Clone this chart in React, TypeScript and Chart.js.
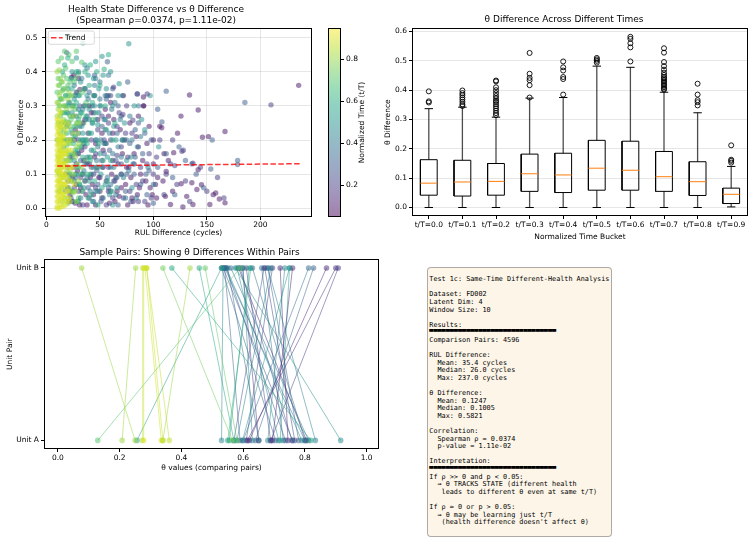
import React, { useEffect, useRef } from 'react';
import { Chart, registerables } from 'chart.js';

Chart.register(...registerables);

const FONT = '"DejaVu Sans", "Liberation Sans", sans-serif';
const MONO = '"DejaVu Sans Mono", "Liberation Mono", monospace';

// ---------------- Panel 1: RUL difference vs theta difference ----------------
const scatterTitle = ['Health State Difference vs θ Difference', '(Spearman ρ=0.0374, p=1.11e-02)'];
const timeLevels = [0.1, 0.2, 0.3, 0.4, 0.5, 0.6, 0.7, 0.8, 0.9];
const cbMin = 0.05;
const cbMax = 0.95;
const cbTicks = [0.2, 0.4, 0.6, 0.8];
const cbLabel = 'Normalized Time (t/T)';
const rulTicks = [0, 50, 100, 150, 200];
const thetaTicks = [0, 0.1, 0.2, 0.3, 0.4, 0.5];

// [RUL difference, theta difference]
const ptsT01 = [[22,0.04],[25,0.12],[28,0.07],[31,0.01],[34,0.1],[37,0.04],[40,0.13],[43,0.07],[46,0.01],[49,0.09],[52,0.03],[55,0.19],[58,0.27],[61,0.1],[64,0.02],[67,0.13],[70,0.06],[73,0.2],[76,0.01],[79,0.09],[82,0.16],[85,0.04],[88,0.1],[91,0.3],[94,0.19],[97,0.06],[100,0.13],[103,0.03],[106,0.24],[109,0.08],[112,0.108],[116,0.011],[119,0.163],[122.6,0.22],[125.8,0.27],[127.6,0.004],[131.2,0.035],[133.8,0.332],[136,0.075],[137,0.011],[140.7,0.055],[141.9,0.288],[141.9,0.113],[145,0.069],[145.9,0.208],[151.5,0.21],[152.8,0.011],[156,0.04],[158.3,0.045],[161.7,0.027],[167,0.225],[167,0.016],[235.9,0.36],[107.8,0.236],[118,0.05],[111.2,0.035],[126,0.072],[23.5,0.384],[25.6,0.39],[29.9,0.38],[31.3,0.348],[56.6,0.33],[72,0.33],[90.7,0.3],[90.7,0.326],[60,0.31],[48,0.26],[39,0.22],[33,0.17],[27,0.23],[45,0.15],[62,0.22],[66,0.05],[75,0.12],[80,0.03],[95,0.01],[102,0.07],[114,0.14],[35,0.3],[42,0.28],[53,0.12],[20,0.06],[18,0.1],[30,0.16],[21,0.02],[24,0.09],[27,0.015],[29,0.11],[32,0.06],[35,0.14],[38,0.01],[41,0.09],[44,0.04],[47,0.12],[50,0.05],[53,0.17],[56,0.08],[59,0.015],[62,0.14],[65,0.09],[68,0.035],[71,0.16],[74,0.07],[77,0.12],[81,0.02],[84,0.21],[87,0.06],[90,0.14],[93,0.08],[96,0.24],[99,0.04],[104,0.09],[63,0.26],[69,0.23],[78,0.25],[86,0.27],[52,0.22],[46,0.19],[36,0.26],[58,0.05],[100,0.2],[110,0.16],[55,0.29],[45,0.33]];
const ptsT02 = [[20,0.08],[24,0.02],[28,0.13],[32,0.09],[36,0.18],[40,0.03],[44,0.1],[48,0.23],[52,0.14],[56,0.01],[60,0.2],[64,0.08],[68,0.28],[72,0.03],[76,0.15],[80,0.22],[84,0.07],[88,0.12],[92,0.02],[96,0.16],[100,0.1],[106,0.2],[110,0.04],[116,0.13],[122,0.07],[128,0.17],[134,0.02],[144,0.12],[150,0.05],[160,0.09],[166,0.03],[210,0.303],[94.2,0.335],[84.9,0.335],[71.5,0.275],[62.8,0.355],[126.7,0.167],[137,0.132],[80.8,0.258],[52,0.27],[40,0.3],[30,0.05],[58,0.12],[66,0.155],[26,0.2],[34,0.25],[46,0.06],[70,0.18],[86,0.02],[120,0.125],[22,0.15],[26,0.06],[30,0.2],[34,0.01],[38,0.13],[42,0.2],[46,0.16],[50,0.09],[54,0.2],[58,0.25],[62,0.03],[66,0.24],[70,0.1],[74,0.22],[78,0.05],[82,0.13],[86,0.18],[90,0.08],[94,0.13],[98,0.03],[103,0.15],[112,0.1],[118,0.2],[130,0.08],[44,0.28],[36,0.08],[28,0.34],[60,0.33],[75,0.3]];
const ptsT03 = [[18,0.05],[22,0.1],[26,0.16],[30,0.22],[34,0.05],[38,0.27],[42,0.12],[46,0.2],[50,0.3],[54,0.16],[58,0.06],[62,0.35],[66,0.22],[70,0.13],[74,0.05],[78,0.19],[82,0.1],[86,0.25],[90,0.16],[94,0.04],[98,0.2],[104,0.12],[108,0.253],[112,0.16],[118,0.09],[124,0.18],[130,0.14],[136,0.13],[140,0.1],[147,0.06],[155,0.2],[185.6,0.31],[76,0.37],[85,0.335],[104,0.29],[112,0.343],[60,0.05],[36,0.35],[28,0.27],[48,0.07],[57,0.429],[19,0.456],[153.7,0.115],[178.8,0.14],[178.8,0.128],[120,0.04],[100,0.015],[93,0.1],[67,0.01],[44,0.02],[24,0.3],[32,0.14],[52,0.24],[20,0.2],[23,0.03],[27,0.09],[31,0.3],[35,0.19],[39,0.06],[43,0.3],[47,0.11],[51,0.02],[55,0.23],[59,0.17],[63,0.08],[67,0.3],[71,0.2],[75,0.1],[79,0.02],[83,0.15],[88,0.07],[92,0.22],[96,0.11],[45,0.39],[40,0.34],[65,0.14],[56,0.32],[83,0.23],[70,0.27]];
const ptsT04 = [[19,0.24],[21,0.31],[23,0.2],[25,0.27],[27,0.33],[29,0.16],[31,0.24],[33,0.38],[35,0.11],[37,0.2],[39,0.32],[41,0.05],[43,0.25],[45,0.36],[47,0.14],[49,0.28],[51,0.2],[53,0.03],[55,0.33],[57,0.09],[59,0.22],[61,0.29],[63,0.12],[65,0.04],[67,0.18],[69,0.26],[72,0.09],[75,0.2],[78,0.27],[81,0.13],[84,0.03],[88,0.21],[95,0.12],[100,0.07],[46,0.38],[26,0.08],[34,0.29],[58,0.39],[71,0.33],[42,0.17],[86,0.3],[20,0.12],[24,0.15],[30,0.02],[38,0.09],[20,0.28],[22,0.05],[24,0.22],[26,0.36],[28,0.1],[30,0.29],[32,0.03],[34,0.2],[36,0.35],[38,0.15],[40,0.26],[42,0.1],[44,0.33],[46,0.05],[48,0.18],[50,0.32],[52,0.12],[54,0.26],[56,0.19],[60,0.07],[62,0.16],[64,0.31],[66,0.09],[70,0.15],[74,0.03],[77,0.11],[80,0.2],[50,0.37],[38,0.41],[30,0.4]];
const ptsT05 = [[16,0.18],[18,0.3],[21,0.25],[24,0.28],[27,0.21],[30,0.33],[33,0.18],[35,0.06],[37,0.26],[39,0.39],[41,0.15],[43,0.02],[45,0.3],[47,0.2],[49,0.35],[51,0.1],[53,0.39],[55,0.26],[57,0.15],[59,0.04],[62,0.3],[65,0.2],[68,0.365],[70,0.1],[73,0.25],[77,0.482],[80,0.06],[85,0.18],[89,0.26],[52,0.445],[58,0.33],[44,0.38],[36,0.42],[28,0.44],[67,0.33],[75,0.14],[30,0.12],[23,0.05],[40,0.29],[62,0.01],[48,0.245],[55,0.07],[92,0.23],[105,0.18],[97,0.33],[20,0.35],[26,0.14],[33,0.24],[17,0.25],[19,0.14],[21,0.33],[22,0.09],[25,0.02],[26,0.32],[29,0.17],[31,0.07],[32,0.28],[34,0.22],[36,0.13],[38,0.33],[40,0.08],[42,0.22],[44,0.12],[46,0.26],[48,0.05],[50,0.16],[54,0.19],[56,0.35],[60,0.12],[63,0.24],[66,0.06],[71,0.2],[79,0.15],[82,0.3],[60,0.4],[46,0.43],[32,0.37],[24,0.4]];
const ptsT06 = [[13,0.32],[15,0.28],[18,0.33],[20,0.3],[22,0.27],[24,0.35],[26,0.24],[28,0.31],[30,0.26],[32,0.2],[34,0.15],[36,0.3],[38,0.1],[40,0.22],[42,0.04],[44,0.17],[46,0.28],[48,0.12],[50,0.36],[52,0.06],[54,0.407],[56,0.23],[58,0.45],[60,0.14],[20,0.503],[34,0.484],[36,0.4],[40,0.36],[45,0.33],[25,0.19],[27,0.1],[29,0.02],[31,0.07],[33,0.28],[19,0.22],[17,0.42],[43,0.31],[47,0.4],[55,0.3],[61,0.05],[64,0.25],[48,0.01],[22,0.14],[38,0.19],[14,0.25],[16,0.35],[17,0.2],[19,0.28],[21,0.16],[23,0.23],[25,0.3],[27,0.17],[29,0.25],[31,0.33],[33,0.1],[35,0.2],[37,0.27],[39,0.03],[41,0.14],[43,0.25],[45,0.08],[49,0.19],[51,0.3],[53,0.14],[57,0.08],[62,0.2],[28,0.4],[23,0.38],[41,0.42],[15,0.4],[20,0.44]];
const ptsT07 = [[10,0.34],[12,0.36],[14,0.37],[16,0.39],[18,0.41],[15,0.345],[20,0.36],[22,0.31],[11,0.38],[25,0.33],[27,0.29],[29,0.12],[31,0.18],[33,0.05],[35,0.25],[37,0.14],[39,0.3],[24,0.43],[28,0.46],[33,0.428],[21,0.45],[16,0.3],[18,0.255],[23,0.08],[26,0.21],[30,0.03],[34,0.34],[36,0.08],[19,0.185],[12,0.1],[14,0.06],[17,0.14],[38,0.2],[41,0.1],[20,0.015],[43,0.26],[30,0.395],[26,0.37],[13,0.22],[22,0.2],[11,0.25],[12,0.3],[13,0.27],[14,0.32],[15,0.2],[16,0.23],[17,0.28],[18,0.33],[19,0.38],[20,0.25],[21,0.1],[22,0.37],[23,0.26],[24,0.16],[25,0.05],[26,0.3],[27,0.38],[28,0.24],[29,0.34],[31,0.27],[32,0.1],[34,0.19],[35,0.35],[37,0.31],[40,0.15],[10,0.2],[11,0.43],[14,0.44],[17,0.46]];
const ptsT08 = [[10,0.27],[11,0.29],[13,0.3],[10,0.31],[12,0.33],[14,0.28],[11,0.36],[13,0.38],[10,0.4],[12,0.405],[15,0.32],[16,0.26],[17,0.22],[18,0.17],[19,0.11],[18,0.06],[20,0.03],[21,0.14],[22,0.24],[23,0.05],[24,0.2],[25,0.1],[26,0.27],[27,0.15],[28,0.02],[29,0.22],[30,0.08],[19,0.29],[21,0.34],[17,0.35],[15,0.02],[14,0.12],[16,0.09],[22,0.19],[20,0.155],[24,0.295],[28,0.18],[31,0.25],[25,0.045],[33,0.12],[12,0.19],[14,0.235],[11,0.15],[13,0.05],[10,0.11],[11,0.05],[12,0.24],[13,0.17],[14,0.2],[15,0.09],[16,0.13],[17,0.03],[18,0.2],[19,0.24],[20,0.19],[21,0.06],[22,0.11],[23,0.27],[24,0.08],[25,0.22],[26,0.16],[27,0.05],[28,0.25],[29,0.13],[30,0.19],[17,0.3],[15,0.37],[13,0.34],[20,0.32],[11,0.31],[23,0.33]];
const ptsT09 = [[10,0.005],[11,0.02],[10,0.035],[12,0.05],[10,0.065],[11,0.08],[10,0.095],[12,0.11],[10,0.125],[11,0.14],[10,0.155],[12,0.17],[10,0.185],[11,0.2],[10,0.215],[12,0.23],[10,0.245],[11,0.26],[13,0.012],[14,0.03],[13,0.045],[15,0.06],[13,0.075],[14,0.09],[13,0.105],[15,0.12],[13,0.135],[14,0.15],[13,0.165],[15,0.18],[13,0.195],[14,0.21],[12,0.22],[16,0.005],[17,0.02],[16,0.04],[17,0.07],[16,0.1],[18,0.13],[16,0.16],[17,0.19],[15,0.24],[12,0.275],[19,0.05],[20,0.09],[19,0.14],[21,0.2],[22,0.02],[24,0.12],[20,0.25],[18,0.23],[26,0.07],[23,0.17],[10,0.0],[12,0.0],[14,0.005],[11,0.105],[12,0.135],[10,0.235],[14,0.255],[16,0.21],[17,0.12],[18,0.095],[19,0.02],[15,0.165],[13,0.285],[10,0.02],[10,0.05],[10,0.08],[10,0.11],[10,0.14],[10,0.17],[10,0.2],[10,0.26],[11,0.035],[11,0.065],[11,0.125],[11,0.16],[11,0.185],[11,0.225],[12,0.08],[12,0.15],[12,0.2],[12,0.25],[13,0.025],[13,0.06],[13,0.09],[13,0.12],[13,0.15],[13,0.18],[13,0.21],[13,0.24],[14,0.045],[14,0.075],[14,0.105],[14,0.135],[14,0.165],[14,0.195],[15,0.03],[15,0.09],[15,0.15],[15,0.21],[16,0.07],[16,0.13],[16,0.19],[16,0.25],[17,0.04],[17,0.1],[17,0.16],[18,0.01],[18,0.07],[18,0.16],[19,0.08],[19,0.17],[20,0.05],[20,0.12],[21,0.03],[21,0.17],[22,0.08],[23,0.12]];
const scatterGroups = [ptsT01, ptsT02, ptsT03, ptsT04, ptsT05, ptsT06, ptsT07, ptsT08, ptsT09];
const trendRul = [10, 237];
const trendTheta = [0.1238, 0.1305];

// ---------------- Panel 2: box plot by time bucket ----------------
const boxTitle = 'θ Difference Across Different Times';
const bucketLabels = ['t/T=0.0', 't/T=0.1', 't/T=0.2', 't/T=0.3', 't/T=0.4', 't/T=0.5', 't/T=0.6', 't/T=0.7', 't/T=0.8', 't/T=0.9'];
const boxQ1 = [0.042, 0.039, 0.042, 0.055, 0.051, 0.059, 0.059, 0.055, 0.041, 0.0135];
const boxMedian = [0.083, 0.087, 0.089, 0.115, 0.111, 0.134, 0.127, 0.105, 0.088, 0.045];
const boxQ3 = [0.163, 0.161, 0.15, 0.182, 0.185, 0.229, 0.226, 0.191, 0.156, 0.066];
const whiskerLow = [0, 0, 0, 0, 0, 0, 0, 0, 0, 0.002];
const whiskerHigh = [0.337, 0.342, 0.308, 0.373, 0.375, 0.482, 0.478, 0.393, 0.323, 0.14];
const fliers = [
  [0.358, 0.362, 0.396],
  [0.346, 0.352, 0.36, 0.368, 0.375, 0.383, 0.39, 0.399],
  [0.315, 0.322, 0.33, 0.338, 0.345, 0.352, 0.36, 0.365, 0.372, 0.38, 0.39, 0.4, 0.41, 0.43, 0.433],
  [0.375, 0.417, 0.434, 0.442, 0.456, 0.527],
  [0.385, 0.438, 0.445, 0.467, 0.478, 0.498],
  [0.494, 0.5, 0.505, 0.51],
  [0.498, 0.546, 0.56, 0.575, 0.582],
  [0.402, 0.405, 0.41, 0.415, 0.42, 0.425, 0.43, 0.435, 0.44, 0.445, 0.452, 0.46, 0.47, 0.482, 0.496, 0.528, 0.543],
  [0.348, 0.359, 0.366, 0.385, 0.422],
  [0.153, 0.159, 0.163, 0.212],
];
const boxTicks = [0, 0.1, 0.2, 0.3, 0.4, 0.5, 0.6];

// ---------------- Panel 3: sample pairs ----------------
const pairTitle = 'Sample Pairs: Showing θ Differences Within Pairs';
const pairSideLabels = ['Unit A', 'Unit B'];
const pairThetaA = [0.25, 0.208, 0.278, 0.335, 0.34, 0.565, 0.82, 0.34, 0.129, 0.256, 0.57, 0.58, 0.361, 0.273, 0.53, 0.555, 0.705, 0.58, 0.59, 0.598, 0.614, 0.62, 0.63, 0.651, 0.76, 0.689, 0.695, 0.8, 0.715, 0.737, 0.758, 0.767, 0.79, 0.8, 0.812, 0.834, 0.916, 0.6, 0.64, 0.57, 0.61, 0.68, 0.72, 0.745, 0.78, 0.69, 0.805, 0.55, 0.65, 0.73];
const pairThetaB = [0.077, 0.252, 0.278, 0.282, 0.288, 0.34, 0.369, 0.428, 0.59, 0.53, 0.458, 0.477, 0.287, 0.275, 0.535, 0.62, 0.53, 0.69, 0.54, 0.75, 0.9, 0.87, 0.6, 0.55, 0.535, 0.61, 0.76, 0.54, 0.58, 0.545, 0.59, 0.67, 0.545, 0.63, 0.56, 0.68, 0.575, 0.812, 0.828, 0.668, 0.695, 0.735, 0.75, 0.72, 0.68, 0.908, 0.585, 0.625, 0.598, 0.66];
const pairTime = [0.85, 0.85, 0.95, 0.93, 0.92, 0.78, 0.6, 0.85, 0.72, 0.55, 0.6, 0.75, 0.9, 0.88, 0.45, 0.55, 0.3, 0.4, 0.3, 0.5, 0.15, 0.12, 0.45, 0.35, 0.25, 0.2, 0.1, 0.35, 0.5, 0.3, 0.28, 0.2, 0.45, 0.35, 0.38, 0.42, 0.48, 0.35, 0.3, 0.25, 0.2, 0.45, 0.55, 0.1, 0.32, 0.18, 0.1, 0.62, 0.15, 0.38];
const pairTicks = [0, 0.2, 0.4, 0.6, 0.8, 1.0];

// ---------------- Panel 4: summary text ----------------
const RULE = '━'.repeat(31);
const infoLines = [
  'Test 1c: Same-Time Different-Health Analysis',
  '',
  'Dataset: FD002',
  'Latent Dim: 4',
  'Window Size: 10',
  '',
  'Results:',
  RULE,
  'Comparison Pairs: 4596',
  '',
  'RUL Difference:',
  '  Mean: 35.4 cycles',
  '  Median: 26.0 cycles',
  '  Max: 237.0 cycles',
  '',
  'θ Difference:',
  '  Mean: 0.1247',
  '  Median: 0.1005',
  '  Max: 0.5821',
  '',
  'Correlation:',
  '  Spearman ρ = 0.0374',
  '  p-value = 1.11e-02',
  '',
  'Interpretation:',
  RULE,
  'If ρ >> 0 and p < 0.05:',
  '  → θ TRACKS STATE (different health',
  '   leads to different θ even at same t/T)',
  '',
  'If ρ ≈ 0 or p > 0.05:',
  '  → θ may be learning just t/T',
  "   (health difference doesn't affect θ)",
];

// ---------------- helpers ----------------
const VIRIDIS = [
  [68, 1, 84], [72, 36, 117], [65, 68, 135], [53, 95, 141], [42, 120, 142],
  [33, 145, 140], [34, 168, 132], [68, 191, 112], [122, 209, 81], [189, 223, 38], [253, 231, 37],
];
function viridis(t: number, alpha = 1) {
  const u = Math.max(0, Math.min(1, t)) * 10;
  const i = Math.min(9, Math.floor(u));
  const f = u - i;
  const a = VIRIDIS[i];
  const b = VIRIDIS[i + 1];
  const c = a.map((v, k) => Math.round(v + (b[k] - v) * f));
  return `rgba(${c[0]},${c[1]},${c[2]},${alpha})`;
}
const normTime = (t: number) => (t - cbMin) / (cbMax - cbMin);

const tickFont = { family: FONT, size: 7.5, lineHeight: 1.2 };
const labelFont = { family: FONT, size: 7.5, lineHeight: 1.2 };
const titleFont = { family: FONT, size: 9, weight: 'normal' as const, lineHeight: 1.167 };
const GRID = 'rgba(176,176,176,0.32)';
const fmt1 = (v: any) => Number(v).toFixed(1);
const fixedTicks = (vals: number[]) => (scale: any) => { scale.ticks = vals.map((value) => ({ value })); };
const fixWidth = (w: number) => (scale: any) => { scale.width = w; };
const fixHeight = (h: number) => (scale: any) => { scale.height = h; };

const framePlugin = {
  id: 'frame',
  afterDatasetsDraw(chart: any) {
    const { ctx, chartArea: a } = chart;
    ctx.save();
    ctx.strokeStyle = '#000';
    ctx.lineWidth = 1;
    const l = Math.round(a.left) + 0.5, t = Math.round(a.top) + 0.5;
    const r = Math.round(a.right) - 0.5, b = Math.round(a.bottom) - 0.5;
    ctx.strokeRect(l, t, r - l, b - t);
    ctx.restore();
  },
};

const trendLegendPlugin = {
  id: 'trendLegend',
  afterDraw(chart: any) {
    const ds = chart.data.datasets.find((d: any) => d.type === 'line');
    if (!ds) return;
    const { ctx, chartArea: a } = chart;
    const x = a.left + 3.3, y = a.top + 3;
    const w = 46, h = 13.3, r = 2;
    ctx.save();
    ctx.beginPath();
    ctx.moveTo(x + r, y);
    ctx.arcTo(x + w, y, x + w, y + h, r);
    ctx.arcTo(x + w, y + h, x, y + h, r);
    ctx.arcTo(x, y + h, x, y, r);
    ctx.arcTo(x, y, x + w, y, r);
    ctx.closePath();
    ctx.fillStyle = 'rgba(255,255,255,0.8)';
    ctx.fill();
    ctx.strokeStyle = '#d0d0d0';
    ctx.lineWidth = 0.8;
    ctx.stroke();
    ctx.beginPath();
    ctx.setLineDash(ds.borderDash);
    ctx.strokeStyle = ds.borderColor;
    ctx.lineWidth = ds.borderWidth;
    ctx.moveTo(x + 2.7, y + h / 2);
    ctx.lineTo(x + 14.4, y + h / 2);
    ctx.stroke();
    ctx.setLineDash([]);
    ctx.fillStyle = '#000';
    ctx.font = `7.5px ${FONT}`;
    ctx.textBaseline = 'middle';
    ctx.fillText(ds.label, x + 16.7, y + h / 2);
    ctx.restore();
  },
};

const cbLabelPlugin = {
  id: 'cbLabel',
  afterDraw(chart: any) {
    const { ctx, chartArea: a } = chart;
    ctx.save();
    ctx.translate(41.7, (a.top + a.bottom) / 2);
    ctx.rotate(-Math.PI / 2);
    ctx.font = `7.5px ${FONT}`;
    ctx.fillStyle = '#000';
    ctx.textAlign = 'center';
    ctx.textBaseline = 'middle';
    ctx.fillText(cbLabel, 0, 0);
    ctx.restore();
  },
};

const baseOptions = {
  animation: false as const,
  responsive: false,
  maintainAspectRatio: false,
  events: [] as any[],
};

function titleOpts(text: any, top: number, bottom: number) {
  return { display: true, text, font: titleFont, color: '#000', padding: { top, bottom } };
}

// ---------------- chart factories ----------------
function makeScatter(): any {
  // indices into timeLevels, listed from the bottom layer to the top layer
  const bottomToTop = [0, 2, 4, 6, 1, 3, 5, 7, 8];
  const datasets: any[] = scatterGroups.map((pts, gi) => ({
    type: 'scatter',
    label: `t/T ${timeLevels[gi]}`,
    data: pts.map(([x, y]) => ({ x, y })),
    backgroundColor: viridis(normTime(timeLevels[gi]), 0.5),
    borderWidth: 0,
    pointBorderWidth: 0,
    pointRadius: 2.7,
    order: 100 - bottomToTop.indexOf(gi),
  }));
  datasets.push({
    type: 'line',
    label: 'Trend',
    data: trendRul.map((x, i) => ({ x, y: trendTheta[i] })),
    borderColor: 'rgba(255,0,0,0.8)',
    borderWidth: 1.5,
    borderDash: [5.5, 2.4],
    pointRadius: 0,
    order: 0,
  });
  return {
    type: 'scatter',
    data: { datasets },
    options: {
      ...baseOptions,
      layout: { padding: { left: 0, right: 8, top: 0, bottom: 0 } },
      plugins: {
        legend: { display: false },
        tooltip: { enabled: false },
        title: titleOpts(scatterTitle, 4.75, 2.25),
      },
      scales: {
        x: {
          type: 'linear', min: -1.35, max: 248.35,
          afterBuildTicks: fixedTicks(rulTicks), afterFit: fixHeight(23),
          ticks: { font: tickFont, color: '#000', padding: 1, autoSkip: false, maxRotation: 0, callback: (v: any) => String(v) },
          grid: { color: GRID, tickColor: '#000', tickLength: 3, lineWidth: 1 },
          border: { display: false },
          title: { display: true, text: 'RUL Difference (cycles)', font: labelFont, color: '#000', padding: { top: 0, bottom: 2.5 } },
        },
        y: {
          type: 'linear', min: -0.0255, max: 0.528,
          afterBuildTicks: fixedTicks(thetaTicks), afterFit: fixWidth(45),
          ticks: { font: tickFont, color: '#000', padding: 4.5, autoSkip: false, callback: fmt1 },
          grid: { color: GRID, tickColor: '#000', tickLength: 3, lineWidth: 1 },
          border: { display: false },
          title: { display: true, text: 'θ Difference', font: labelFont, color: '#000', padding: { top: 16.2, bottom: 0 } },
        },
      },
    },
    plugins: [framePlugin, trendLegendPlugin],
  };
}

function makeColorbar(): any {
  return {
    type: 'bar',
    data: {
      labels: [''],
      datasets: [{
        data: [[cbMin, cbMax]],
        backgroundColor: (c: any) => {
          const area = c.chart.chartArea;
          if (!area) return 'transparent';
          const g = c.chart.ctx.createLinearGradient(0, area.bottom, 0, area.top);
          for (let i = 0; i <= 20; i++) g.addColorStop(i / 20, viridis(i / 20, 0.5));
          return g;
        },
        borderColor: '#000',
        borderWidth: 0,
        borderSkipped: false,
        barPercentage: 1,
        categoryPercentage: 1,
      }],
    },
    options: {
      ...baseOptions,
      layout: { padding: { left: 8, right: 0, top: 28, bottom: 23 } },
      plugins: { legend: { display: false }, tooltip: { enabled: false } },
      scales: {
        x: { display: false },
        y: {
          position: 'right', min: cbMin, max: cbMax,
          afterBuildTicks: fixedTicks(cbTicks), afterFit: fixWidth(39),
          ticks: { font: tickFont, color: '#000', padding: 2, callback: fmt1 },
          grid: { drawOnChartArea: false, tickColor: '#000', tickLength: 3 },
          border: { display: false },
        },
      },
    },
    plugins: [framePlugin, cbLabelPlugin],
  };
}

function makeBox(): any {
  const HALF_BOX = 0.25;
  const HALF_CAP = 0.125;
  const positions = bucketLabels.map((_, i) => i + 1);
  const gap = (x: number) => ({ x, y: null });
  const boxPath = positions.flatMap((p, i) => [
    { x: p - HALF_BOX, y: boxQ1[i] }, { x: p + HALF_BOX, y: boxQ1[i] },
    { x: p + HALF_BOX, y: boxQ3[i] }, { x: p - HALF_BOX, y: boxQ3[i] },
    { x: p - HALF_BOX, y: boxQ1[i] }, gap(p),
  ]);
  const whiskers = positions.flatMap((p, i) => [
    { x: p, y: boxQ1[i] }, { x: p, y: whiskerLow[i] }, gap(p),
    { x: p, y: boxQ3[i] }, { x: p, y: whiskerHigh[i] }, gap(p),
  ]);
  const caps = positions.flatMap((p, i) => [
    { x: p - HALF_CAP, y: whiskerLow[i] }, { x: p + HALF_CAP, y: whiskerLow[i] }, gap(p),
    { x: p - HALF_CAP, y: whiskerHigh[i] }, { x: p + HALF_CAP, y: whiskerHigh[i] }, gap(p),
  ]);
  const medians = positions.flatMap((p, i) => [
    { x: p - HALF_BOX, y: boxMedian[i] }, { x: p + HALF_BOX, y: boxMedian[i] }, gap(p),
  ]);
  const flierPts = positions.flatMap((p, i) => fliers[i].map((v) => ({ x: p, y: v })));
  const lineDs = (label: string, data: any[], color: string, width = 1) => ({
    label, data, showLine: true, spanGaps: false, borderColor: color, borderWidth: width, pointRadius: 0,
  });
  return {
    type: 'scatter',
    data: {
      datasets: [
        lineDs('median', medians, '#ff7f0e'),
        lineDs('box', boxPath, '#000'),
        lineDs('whisker', whiskers, 'rgba(0,0,0,0.7)', 1.3),
        lineDs('cap', caps, '#000'),
        { label: 'fliers', data: flierPts, showLine: false, pointRadius: 2.5, pointBackgroundColor: 'rgba(0,0,0,0)', pointBorderColor: '#000', pointBorderWidth: 0.9 },
      ],
    },
    options: {
      ...baseOptions,
      layout: { padding: { left: 0, right: 7, top: 0, bottom: 0 } },
      plugins: { legend: { display: false }, tooltip: { enabled: false }, title: titleOpts(boxTitle, 14.75, 3.05) },
      scales: {
        x: {
          type: 'linear', min: 0.5, max: 10.5,
          afterBuildTicks: fixedTicks(positions), afterFit: fixHeight(26),
          ticks: { font: tickFont, color: '#000', padding: 1.5, autoSkip: false, maxRotation: 0, callback: (v: any) => bucketLabels[Math.round(v) - 1] },
          grid: { drawOnChartArea: false, tickColor: '#000', tickLength: 3 },
          border: { display: false },
          title: { display: true, text: 'Normalized Time Bucket', font: labelFont, color: '#000', padding: { top: 0, bottom: 0 } },
        },
        y: {
          type: 'linear', min: -0.029, max: 0.611,
          afterBuildTicks: fixedTicks(boxTicks), afterFit: fixWidth(32),
          ticks: { font: tickFont, color: '#000', padding: 2, autoSkip: false, callback: fmt1 },
          grid: { color: GRID, tickColor: '#000', tickLength: 3, lineWidth: 1 },
          border: { display: false },
          title: { display: true, text: 'θ Difference', font: labelFont, color: '#000', padding: { top: 3.5, bottom: 0 } },
        },
      },
    },
    plugins: [framePlugin],
  };
}

function makePairs(): any {
  const datasets = pairThetaA.map((a, i) => {
    const col = viridis(pairTime[i], 0.5);
    return {
      label: `pair ${i + 1}`,
      data: [{ x: a, y: 0 }, { x: pairThetaB[i], y: 1 }],
      showLine: true,
      borderColor: col,
      borderWidth: 1,
      pointRadius: 2.8,
      pointBackgroundColor: col,
      pointBorderWidth: 0,
    };
  });
  return {
    type: 'scatter',
    data: { datasets },
    options: {
      ...baseOptions,
      layout: { padding: { left: 0, right: 6, top: 0, bottom: 72 } },
      plugins: { legend: { display: false }, tooltip: { enabled: false }, title: titleOpts(pairTitle, 7.05, 1.75) },
      scales: {
        x: {
          type: 'linear', min: -0.045, max: 1.04,
          afterBuildTicks: fixedTicks(pairTicks), afterFit: fixHeight(24),
          ticks: { font: tickFont, color: '#000', padding: 1.8, autoSkip: false, maxRotation: 0, callback: fmt1 },
          grid: { drawOnChartArea: false, tickColor: '#000', tickLength: 3 },
          border: { display: false },
          title: { display: true, text: 'θ values (comparing pairs)', font: labelFont, color: '#000', padding: { top: 0, bottom: 0.2 } },
        },
        y: {
          type: 'linear', min: -0.05, max: 1.05,
          afterBuildTicks: fixedTicks([0, 1]), afterFit: fixWidth(44),
          ticks: { font: tickFont, color: '#000', padding: 2, autoSkip: false, callback: (v: any) => pairSideLabels[Math.round(v)] },
          grid: { drawOnChartArea: false, tickColor: '#000', tickLength: 3 },
          border: { display: false },
          title: { display: true, text: 'Unit Pair', font: labelFont, color: '#000', padding: { top: 5.5, bottom: 0 } },
        },
      },
    },
    plugins: [framePlugin],
  };
}

function ChartBox(props: { make: () => any; left: number; top: number; width: number; height: number }) {
  const ref = useRef<HTMLCanvasElement | null>(null);
  useEffect(() => {
    if (!ref.current) return;
    const chart = new Chart(ref.current, props.make());
    return () => chart.destroy();
  }, []);
  const { left, top, width, height } = props;
  return (
    <canvas
      ref={ref}
      width={width}
      height={height}
      style={{ position: 'absolute', left, top, width, height, display: 'block' }}
    />
  );
}

export default function App() {
  return (
    <div style={{ position: 'fixed', left: 0, top: 0, width: 755, height: 545, background: '#fff', overflow: 'hidden' }}>
      <ChartBox make={makeScatter} left={0} top={0} width={320} height={240} />
      <ChartBox make={makeColorbar} left={320} top={0} width={60} height={240} />
      <ChartBox make={makeBox} left={380} top={0} width={375} height={242} />
      <ChartBox make={makePairs} left={0} top={240} width={385} height={305} />
      <div
        style={{
          position: 'absolute', left: 427, top: 267, width: 185, height: 270, boxSizing: 'border-box',
          border: '1px solid rgba(0,0,0,0.3)', borderRadius: 4, background: 'rgba(245,222,179,0.3)',
        }}
      >
        <pre
          style={{
            margin: 0, position: 'absolute', left: 1.3, top: 8.2, fontFamily: MONO, fontSize: 6.8,
            lineHeight: '7.6px', color: '#000',
          }}
        >
          {infoLines.map((ln, i) => (
            <React.Fragment key={i}>
              {ln === RULE ? (
                <span style={{ display: 'inline-block', transform: 'scaleY(2.4)' }}>{ln}</span>
              ) : (
                ln
              )}
              {i < infoLines.length - 1 ? '\n' : null}
            </React.Fragment>
          ))}
        </pre>
      </div>
    </div>
  );
}
